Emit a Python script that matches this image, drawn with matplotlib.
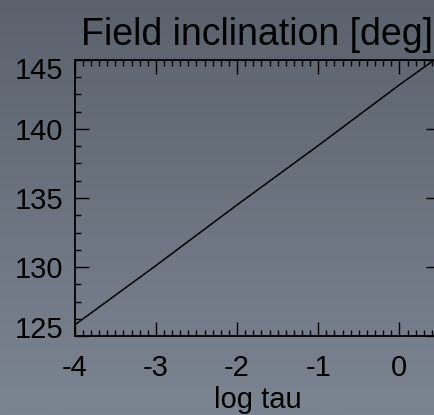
import matplotlib.pyplot as plt
from matplotlib.ticker import MultipleLocator
import matplotlib.transforms as mtransforms
import numpy as np

plt.rcParams['font.family'] = ['Liberation Sans', 'DejaVu Sans']

# data
log_tau = [-4.0, -3.0, -2.0, -1.0, 0.0, 0.5]
inclination = [125.8, 130.1, 134.5, 138.8, 143.2, 145.3]
x_ticks = [-4, -3, -2, -1, 0]
y_ticks = [125, 130, 135, 140, 145]

fig = plt.figure(figsize=(4.34, 4.15), dpi=100)

# gray gradient background
bg = fig.add_axes([0, 0, 1, 1], zorder=-1)
grad = np.linspace(0, 1, 256).reshape(-1, 1)
top_col = np.array([0x5b, 0x62, 0x6e]) / 255
bot_col = np.array([0x7b, 0x85, 0x91]) / 255
img = top_col + grad[..., None] * (bot_col - top_col)
bg.imshow(img, aspect='auto', extent=[0, 1, 0, 1])
bg.axis('off')

ax = fig.add_axes([74.7 / 434, 79 / 415, (440 - 74.7) / 434, 276 / 415])
ax.set_facecolor('none')
ax.plot(log_tau, inclination, color='black', lw=1.1)
ax.set_xlim(-4, 0.5)
ax.set_ylim(125, 145)
ax.set_xticks(x_ticks)
ax.set_yticks(y_ticks)
ax.set_xticklabels([str(v) for v in x_ticks])
ax.xaxis.set_minor_locator(MultipleLocator(0.1))
ax.yaxis.set_minor_locator(MultipleLocator(1.25))
ax.tick_params(which='both', direction='in', top=True, right=True,
               colors='black', width=1.0, labelsize=21)
ax.tick_params(which='major', length=10)
ax.tick_params(which='minor', length=4)
ax.tick_params(axis='y', pad=8)
ax.tick_params(axis='x', pad=13)
for s in ax.spines.values():
    s.set_linewidth(1.3)
    s.set_color('black')

ax.set_xlabel('log tau', fontsize=21, labelpad=3)
ax.set_title('Field inclination [deg]', fontsize=27, pad=11)

# end labels pulled inside like the original
labels = ax.get_yticklabels()
labels[-1].set_transform(labels[-1].get_transform() +
                         mtransforms.ScaledTranslation(0, -8 / 100, fig.dpi_scale_trans))
labels[0].set_transform(labels[0].get_transform() +
                        mtransforms.ScaledTranslation(0, 9 / 100, fig.dpi_scale_trans))

fig.savefig('out.png', dpi=100)
